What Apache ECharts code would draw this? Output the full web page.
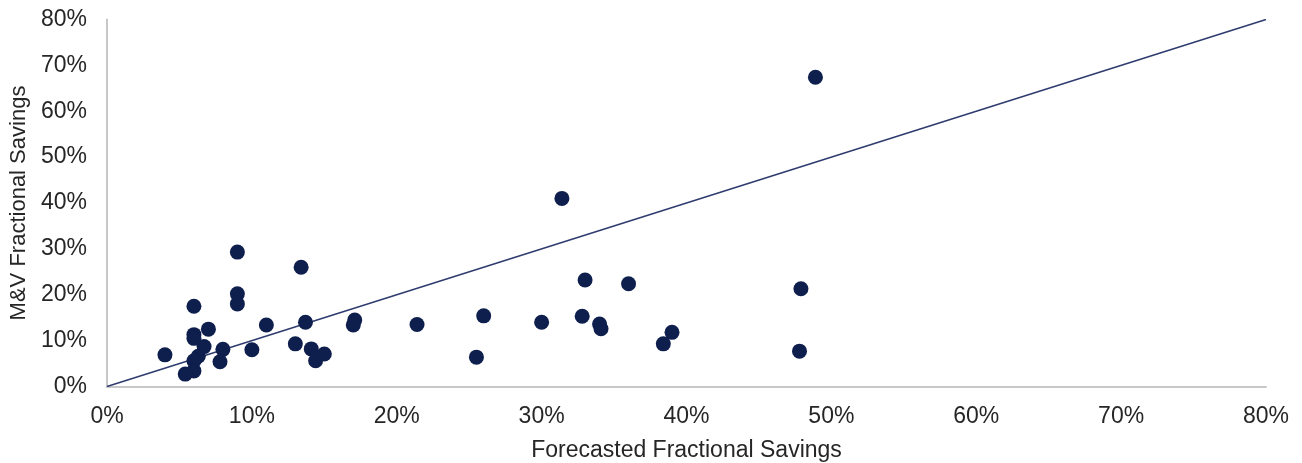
<!DOCTYPE html>
<html>
<head>
<meta charset="utf-8">
<script src="https://cdn.jsdelivr.net/npm/echarts@6/dist/echarts.min.js"></script>
<style>
html,body{margin:0;padding:0;background:#fff;}
#c{width:1302px;height:463px;}
</style>
</head>
<body>
<div id="c"></div>
<script>
// Forecasted fractional savings (%) and M&V fractional savings (%)
const forecasted = [4.0, 6.0, 9.0, 13.4, 9.0, 9.0, 6.0, 6.0, 7.0, 11.0, 13.7, 17.1, 17.0, 6.7, 6.3, 6.0, 6.0, 5.4, 8.0, 7.8, 10.0, 13.0, 14.1, 15.0, 14.4, 21.4, 26.0, 25.5, 30.0, 33.0, 36.0, 32.8, 34.0, 34.1, 39.0, 38.4, 47.9, 47.8, 31.4, 48.9];
const measured   = [6.9, 17.5, 29.3, 26.0, 20.2, 18.0, 11.3, 10.5, 12.5, 13.4, 14.0, 14.5, 13.4, 8.7, 6.6, 5.6, 3.4, 2.7, 8.1, 5.4, 8.0, 9.3, 8.2, 7.1, 5.6, 13.5, 15.4, 6.4, 14.0, 23.2, 22.4, 15.3, 13.6, 12.6, 11.8, 9.3, 21.3, 7.7, 41.0, 67.4];
const refLine = [[0, 0], [80, 80]];
const axisTicks = [0, 10, 20, 30, 40, 50, 60, 70, 80];

const points = forecasted.map((x, i) => [x, measured[i]]);
const chart = echarts.init(document.getElementById('c'));
const FONT = 'Liberation Sans, Arial, sans-serif';
const labelStyle = { color: '#262626', fontSize: 23, fontFamily: FONT, formatter: v => v + '%' };
const axisLine = { show: true, lineStyle: { color: '#c8c8c8', width: 2 } };
chart.setOption({
  animation: false,
  grid: { left: 107, right: 36, top: 19.5, bottom: 76.5, containLabel: false, outerBoundsMode: 'none' },
  xAxis: {
    type: 'value', min: axisTicks[0], max: axisTicks[axisTicks.length - 1], interval: 10,
    axisLine, axisTick: { show: false }, splitLine: { show: false },
    axisLabel: Object.assign({ margin: 19 }, labelStyle),
    name: 'Forecasted Fractional Savings', nameLocation: 'middle', nameGap: 53,
    nameTextStyle: { color: '#262626', fontSize: 23, fontFamily: FONT }
  },
  yAxis: {
    type: 'value', min: axisTicks[0], max: axisTicks[axisTicks.length - 1], interval: 10,
    axisLine, axisTick: { show: false }, splitLine: { show: false },
    axisLabel: Object.assign({ margin: 20 }, labelStyle),
    name: 'M&V Fractional Savings', nameLocation: 'middle', nameGap: 70,
    nameTextStyle: { color: '#262626', fontSize: 22, fontFamily: FONT }
  },
  series: [
    {
      type: 'line', data: refLine, showSymbol: false, symbol: 'none',
      lineStyle: { color: '#2e3b6e', width: 1.5 }, z: 1, silent: true
    },
    {
      type: 'scatter', data: points, symbolSize: 15,
      itemStyle: { color: '#0f1f4d', opacity: 1 }, z: 2
    }
  ]
});
</script>
</body>
</html>
